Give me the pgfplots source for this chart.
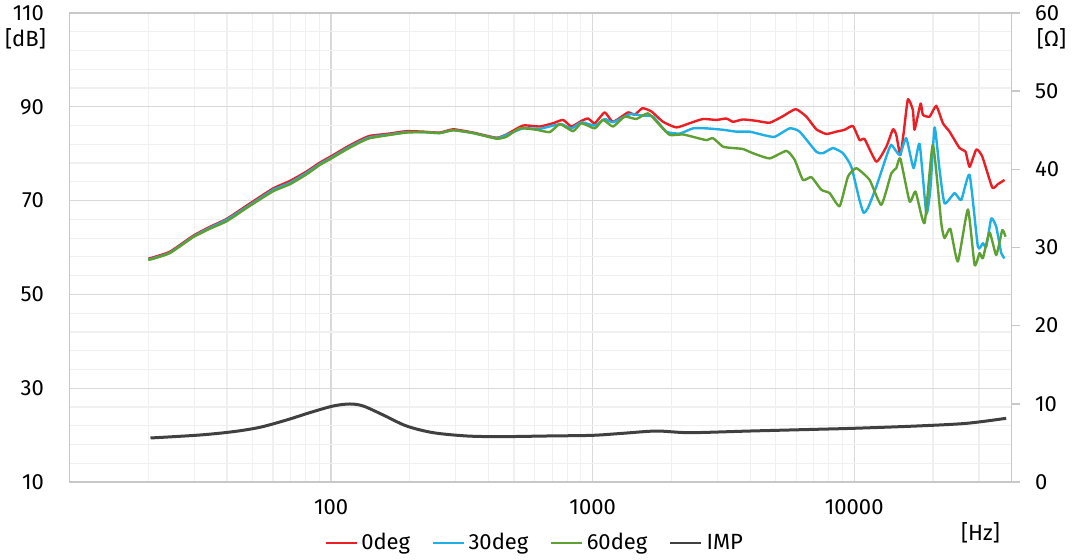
\documentclass[border=0pt]{standalone}
\usepackage{fontspec}
\setmainfont{Fira Sans}
\usepackage{pgfplots}
\pgfplotsset{compat=1.18}
\definecolor{cRed}{RGB}{235,30,35}
\definecolor{cBlue}{RGB}{30,175,230}
\definecolor{cGreen}{RGB}{95,160,50}
\definecolor{cImp}{RGB}{64,64,64}
\definecolor{gridmaj}{RGB}{217,217,217}
\definecolor{gridmin}{RGB}{240,240,240}
\definecolor{axisgray}{RGB}{200,200,200}

\pgfplotstableread{
f db
20 57.6
20.6 57.8
24.2 59.1
29.7 62.5
34.4 64.4
39.9 66.1
49.0 69.4
60.1 72.6
69.7 74.2
80.6 76.2
90.6 78.1
100.4 79.5
114.6 81.4
128.8 82.9
140.6 83.8
167.7 84.3
194 84.8
224.7 84.7
260 84.5
293 85.2
349 84.5
429 83.4
468 84.1
542 86.0
628 85.8
706 86.5
771 87.2
830 85.8
906 87.0
960 87.5
1019 86.5
1112 88.8
1196 86.8
1365 88.8
1448 88.3
1550 89.7
1678 89.0
1858 86.8
2090 85.6
2350 86.5
2642 87.4
2972 87.2
3245 87.5
3440 86.8
3755 87.3
4227 87.0
4750 86.6
5340 88.0
5970 89.5
6561 87.9
7165 85.2
7824 84.2
8543 84.7
9190 85.1
9886 85.9
10486 82.9
10960 83.1
12150 78.3
13270 81.5
14060 85.2
14480 84.0
15000 79.7
15440 84.3
16040 91.6
16760 89.3
17010 85.1
17940 90.7
18300 88.3
19420 87.9
20590 90.2
21830 86.5
23140 84.7
25270 81.2
26650 80.4
27610 77.2
29290 80.9
30870 79.4
33710 72.8
35410 73.5
37560 74.4
}\redtab

\pgfplotstableread{
f db
20 57.5
20.6 57.6
24.2 58.9
29.7 62.3
34.4 64.2
39.9 65.9
49.0 69.1
60.1 72.3
69.7 73.8
80.6 75.9
90.6 77.8
100.4 79.2
114.6 81.1
128.8 82.6
140.6 83.5
167.7 84.1
194 84.6
224.7 84.6
260 84.4
293 85.0
349 84.4
429 83.3
468 84.0
542 85.4
628 85.3
706 86.0
760 86.3
830 85.4
906 86.7
1019 86.0
1112 87.4
1196 86.7
1387 88.4
1558 88.1
1701 87.9
1914 84.7
2152 84.3
2418 85.4
2722 85.4
3150 85.1
3544 84.7
3981 84.7
4478 84.0
4964 83.6
5665 85.4
6185 84.7
7165 80.4
7593 80.1
8289 81.2
9055 80.1
9748 77.2
10486 70.0
10860 67.4
11280 68.4
12150 73.0
13270 79.4
13860 81.9
14910 79.7
15810 83.3
16860 76.9
17780 82.1
18860 67.3
19540 72.3
20290 85.6
21200 76.5
22150 69.4
24190 71.6
25650 70.1
27610 75.5
29700 60.2
31030 60.9
31980 60.2
33420 66.2
34910 64.4
36490 58.8
37560 57.7
}\bluetab

\pgfplotstableread{
f db
20 57.4
20.6 57.5
24.2 58.8
29.7 62.2
34.4 64.0
39.9 65.6
49.0 68.9
60.1 72.0
69.7 73.5
80.6 75.6
90.6 77.6
100.4 79.0
114.6 80.9
128.8 82.4
140.6 83.3
167.7 84.0
194 84.5
224.7 84.6
260 84.4
293 85.0
349 84.4
429 83.2
468 83.6
526 85.4
610 85.1
686 84.6
749 86.3
842 84.8
906 86.5
1019 85.4
1096 87.2
1196 85.8
1326 87.9
1470 87.4
1628 88.6
1805 86.1
1970 84.0
2216 84.1
2493 83.4
2722 82.9
2885 83.3
3150 81.5
3440 81.2
3755 81.0
4102 80.1
4750 79.0
5503 80.6
5918 78.7
6368 74.4
6858 75.0
7486 72.3
8054 71.6
8795 68.8
9461 75.1
10190 76.9
11450 74.4
12690 69.1
13860 75.8
14480 76.9
15000 79.0
16280 69.8
17160 71.9
18580 65.2
19980 81.9
21520 65.2
22150 62.0
23300 64.0
24900 57.0
27200 68.1
28850 56.3
30150 58.8
31030 57.7
32920 63.2
34910 58.4
36810 63.7
37890 62.3
}\greentab

\pgfplotstableread{
f z
20.4 5.63
31.5 6.01
42.3 6.44
53.5 7.0
67.6 7.93
82.9 8.87
101.8 9.72
118 9.98
132.7 9.72
158.3 8.57
194.4 7.16
245.6 6.31
329 5.89
441 5.80
686 5.89
1000 5.97
1307 6.23
1753 6.52
2350 6.31
3984 6.52
7160 6.74
10000 6.87
17260 7.16
26800 7.50
38100 8.15
}\imptab

\begin{document}
\begin{tikzpicture}[font=\fontsize{11}{13}\selectfont]
\path[use as bounding box] (-34.75pt,-39pt) rectangle (501.25pt,241pt);
\begin{axis}[
  scale only axis, width=471.1pt, height=234.5pt,
  at={(0,0)}, anchor=south west,
  xmode=log, xmin=10, xmax=40000,
  ymin=10, ymax=110,
  xtick={100,1000,10000}, xticklabels={100,1000,10000},
  minor xtick={20,30,40,50,60,70,80,90,200,300,400,500,600,700,800,900,2000,3000,4000,5000,6000,7000,8000,9000,20000,30000},
  ytick={10,30,50,70,90,110},
  minor ytick={14,18,22,26,34,38,42,46,54,58,62,66,74,78,82,86,94,98,102,106},
  xmajorgrids, xminorgrids, ymajorgrids, yminorgrids,
  major grid style={draw=gridmaj, line width=0.6pt},
  minor grid style={draw=gridmin, line width=0.6pt},
  axis line style={draw=axisgray, line width=0.7pt},
  major tick length=0pt, minor tick length=0pt,
  tick label style={font=\fontsize{11}{13}\selectfont, text=black},
  /pgf/number format/assume math mode=true,
  yticklabel style={xshift=-9.3pt},
  xticklabel style={yshift=-5.3pt},
]
\addplot[cRed, line width=1.2pt, line join=round, smooth, tension=0.3] table[x=f,y=db] {\redtab};
\addplot[cBlue, line width=1.2pt, line join=round, smooth, tension=0.3] table[x=f,y=db] {\bluetab};
\addplot[cGreen, line width=1.2pt, line join=round, smooth, tension=0.3] table[x=f,y=db] {\greentab};
\end{axis}
\begin{axis}[
  scale only axis, width=471.1pt, height=234.5pt,
  at={(0,0)}, anchor=south west,
  xmode=log, xmin=10, xmax=40000,
  axis x line=none,
  axis y line*=right,
  ymin=0, ymax=60, ytick={0,10,20,30,40,50,60},
  tick align=outside, major tick length=4.2pt,
  ytick style={draw=axisgray, line width=0.7pt},
  axis line style={draw=axisgray, line width=0.7pt},
  tick label style={font=\fontsize{11}{13}\selectfont, text=black},
  /pgf/number format/assume math mode=true,
  yticklabel style={xshift=4pt},
  legend columns=4,
  legend style={at={(axis description cs:0.495,-0.13)}, anchor=center, draw=none, fill=none,
    font=\fontsize{11}{13}\selectfont,
    /tikz/every even column/.append style={column sep=9pt}},
]
\addlegendimage{legend image code/.code={\draw[cRed, line width=0.7pt] (0pt,0pt) -- (15.5pt,0pt);}}
\addlegendentry{0deg}
\addlegendimage{legend image code/.code={\draw[cBlue, line width=0.7pt] (0pt,0pt) -- (15.5pt,0pt);}}
\addlegendentry{30deg}
\addlegendimage{legend image code/.code={\draw[cGreen, line width=0.7pt] (0pt,0pt) -- (15.5pt,0pt);}}
\addlegendentry{60deg}
\addplot[cImp, line width=1.5pt, line join=round, smooth, tension=0.5,
  legend image code/.code={\draw[cImp, line width=1.1pt] (0pt,0pt) -- (15.5pt,0pt);}] table[x=f,y=z] {\imptab};
\addlegendentry{IMP}
\end{axis}
\node[inner sep=0pt] at (-22pt,221.5pt) {[dB]};
\node[inner sep=0pt] at (491pt,221.75pt) {[Ω]};
\node[inner sep=0pt] at (455.5pt,-25.5pt) {[Hz]};
\end{tikzpicture}
\end{document}
